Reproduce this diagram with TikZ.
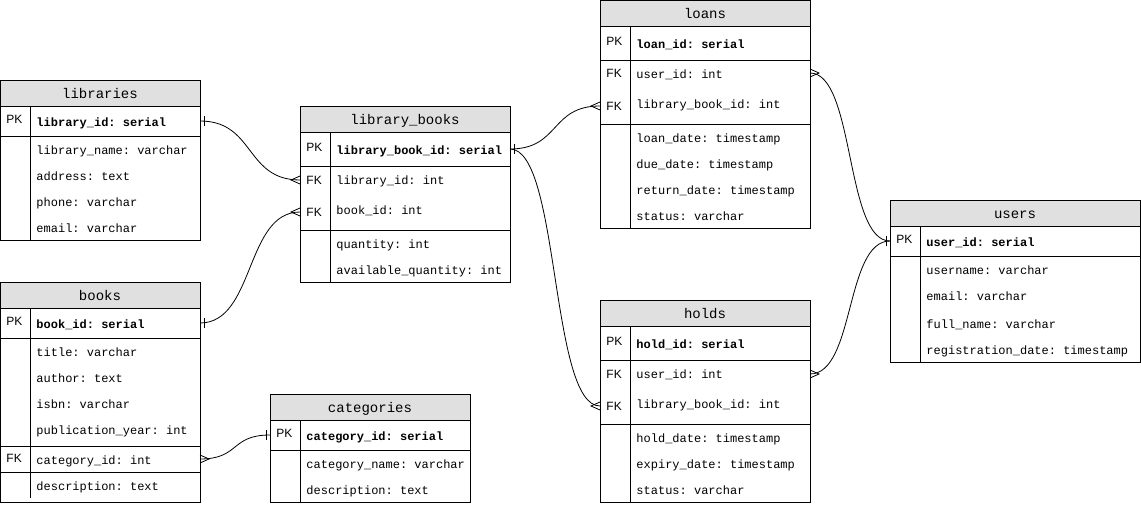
\documentclass[tikz,border=0pt]{standalone}
\usepackage{fontspec}
\newfontfamily\monofont{Liberation Mono}
\newfontfamily\keyfont{Liberation Sans}
\usetikzlibrary{positioning}
\definecolor{headgray}{RGB}{224,224,224}
\frenchspacing

\tikzset{
  head/.style={draw, fill=headgray, minimum height=26, inner sep=0, outer sep=0, text height=12, text depth=2, font=\monofont\fontsize{14}{16}\selectfont},
  sect/.style={draw, inner sep=0, outer sep=0},
  key/.style={anchor=west, inner sep=0, font=\keyfont\fontsize{12}{14}\selectfont},
  field/.style={anchor=west, inner sep=0, text height=11, text depth=1, font=\monofont\fontsize{12}{14}\selectfont},
  pkfield/.style={field, font=\monofont\bfseries\fontsize{12}{14}\selectfont},
  link/.style={line width=0.8},
  many/.pic={\draw[link] (0,-4) -- (9,0) -- (0,4);},
  one/.pic={\draw[link] (4,-5) -- (4,5);},
}

\begin{document}
\begin{tikzpicture}[x=1pt, y=-1pt, line width=0.9]
\useasboundingbox (0,0) rectangle (1141,506);

% libraries
\node[head, minimum width=200] (libraries) at (100,93) {libraries};
\node[sect, minimum width=200, minimum height=30, below=0 of libraries] (libraries-pk) {};
\node[sect, minimum width=200, minimum height=104, below=0 of libraries-pk] (libraries-rest) {};
\draw ([xshift=30]libraries-pk.north west) -- ([xshift=30]libraries-rest.south west);
\node[key] (libraries-k1) at (6,119) {PK};
\node[pkfield] (libraries-f1) at (36,121) {library\_id: serial};
\node[field] (libraries-f2) at (36,149) {library\_name: varchar};
\node[field] (libraries-f3) at (36,175) {address: text};
\node[field] (libraries-f4) at (36,201) {phone: varchar};
\node[field] (libraries-f5) at (36,227) {email: varchar};

% books
\node[head, minimum width=200] (books) at (100,295) {books};
\node[sect, minimum width=200, minimum height=30, below=0 of books] (books-pk) {};
\node[sect, minimum width=200, minimum height=108, below=0 of books-pk] (books-rest) {};
\node[sect, minimum width=200, minimum height=26, below=0 of books-rest] (books-fk) {};
\node[sect, minimum width=200, minimum height=30, below=0 of books-fk] (books-last) {};
\draw ([xshift=30]books-pk.north west) -- ([xshift=30, yshift=4]books-last.south west);
\node[key] (books-k1) at (6,321) {PK};
\node[key] (books-k2) at (6,458) {FK};
\node[pkfield] (books-f1) at (36,323) {book\_id: serial};
\node[field] (books-f2) at (36,351) {title: varchar};
\node[field] (books-f3) at (36,377) {author: text};
\node[field] (books-f4) at (36,403) {isbn: varchar};
\node[field] (books-f5) at (36,429) {publication\_year: int};
\node[field] (books-f6) at (36,459) {category\_id: int};
\node[field] (books-f7) at (36,485) {description: text};

% library_books
\node[head, minimum width=210] (lbooks) at (405,119) {library\_books};
\node[sect, minimum width=210, minimum height=34, below=0 of lbooks] (lbooks-pk) {};
\node[sect, minimum width=210, minimum height=64, below=0 of lbooks-pk] (lbooks-fk) {};
\node[sect, minimum width=210, minimum height=52, below=0 of lbooks-fk] (lbooks-rest) {};
\draw ([xshift=30]lbooks-pk.north west) -- ([xshift=30]lbooks-rest.south west);
\node[key] (lbooks-k1) at (306,147) {PK};
\node[key] (lbooks-k2) at (306,180) {FK};
\node[key] (lbooks-k3) at (306,212) {FK};
\node[pkfield] (lbooks-f1) at (336,149) {library\_book\_id: serial};
\node[field] (lbooks-f2) at (336,179) {library\_id: int};
\node[field] (lbooks-f3) at (336,209) {book\_id: int};
\node[field] (lbooks-f4) at (336,243) {quantity: int};
\node[field] (lbooks-f5) at (336,269) {available\_quantity: int};

% loans
\node[head, minimum width=210] (loans) at (705,13) {loans};
\node[sect, minimum width=210, minimum height=34, below=0 of loans] (loans-pk) {};
\node[sect, minimum width=210, minimum height=64, below=0 of loans-pk] (loans-fk) {};
\node[sect, minimum width=210, minimum height=104, below=0 of loans-fk] (loans-rest) {};
\draw ([xshift=30]loans-pk.north west) -- ([xshift=30]loans-rest.south west);
\node[key] (loans-k1) at (606,41) {PK};
\node[key] (loans-k2) at (606,73) {FK};
\node[key] (loans-k3) at (606,106) {FK};
\node[pkfield] (loans-f1) at (636,43) {loan\_id: serial};
\node[field] (loans-f2) at (636,73) {user\_id: int};
\node[field] (loans-f3) at (636,103) {library\_book\_id: int};
\node[field] (loans-f4) at (636,137) {loan\_date: timestamp};
\node[field] (loans-f5) at (636,163) {due\_date: timestamp};
\node[field] (loans-f6) at (636,189) {return\_date: timestamp};
\node[field] (loans-f7) at (636,215) {status: varchar};

% holds
\node[head, minimum width=210] (holds) at (705,313) {holds};
\node[sect, minimum width=210, minimum height=34, below=0 of holds] (holds-pk) {};
\node[sect, minimum width=210, minimum height=64, below=0 of holds-pk] (holds-fk) {};
\node[sect, minimum width=210, minimum height=78, below=0 of holds-fk] (holds-rest) {};
\draw ([xshift=30]holds-pk.north west) -- ([xshift=30]holds-rest.south west);
\node[key] (holds-k1) at (606,341) {PK};
\node[key] (holds-k2) at (606,374) {FK};
\node[key] (holds-k3) at (606,406) {FK};
\node[pkfield] (holds-f1) at (636,343) {hold\_id: serial};
\node[field] (holds-f2) at (636,373) {user\_id: int};
\node[field] (holds-f3) at (636,403) {library\_book\_id: int};
\node[field] (holds-f4) at (636,437) {hold\_date: timestamp};
\node[field] (holds-f5) at (636,463) {expiry\_date: timestamp};
\node[field] (holds-f6) at (636,489) {status: varchar};

% users
\node[head, minimum width=250] (users) at (1015,213) {users};
\node[sect, minimum width=250, minimum height=30, below=0 of users] (users-pk) {};
\node[sect, minimum width=250, minimum height=106, below=0 of users-pk] (users-rest) {};
\draw ([xshift=30]users-pk.north west) -- ([xshift=30]users-rest.south west);
\node[key] (users-k1) at (896,239) {PK};
\node[pkfield] (users-f1) at (926,241) {user\_id: serial};
\node[field] (users-f2) at (926,269) {username: varchar};
\node[field] (users-f3) at (926,295) {email: varchar};
\node[field] (users-f4) at (926,323) {full\_name: varchar};
\node[field] (users-f5) at (926,349) {registration\_date: timestamp};

% categories
\node[head, minimum width=200] (categories) at (370,407) {categories};
\node[sect, minimum width=200, minimum height=30, below=0 of categories] (categories-pk) {};
\node[sect, minimum width=200, minimum height=52, below=0 of categories-pk] (categories-rest) {};
\draw ([xshift=30]categories-pk.north west) -- ([xshift=30]categories-rest.south west);
\node[key] (categories-k1) at (276,433) {PK};
\node[pkfield] (categories-f1) at (306,435) {category\_id: serial};
\node[field] (categories-f2) at (306,463) {category\_name: varchar};
\node[field] (categories-f3) at (306,489) {description: text};

% relations
\draw[link] (libraries-pk.east) .. controls +(55,0) and +(-55,0) .. (lbooks-fk.west |- lbooks-k2);
\draw[link] (books-pk.east) .. controls +(55,0) and +(-55,0) .. (lbooks-fk.west |- lbooks-k3);
\draw[link] (lbooks-pk.east) .. controls +(50,0) and +(-50,0) .. (loans-fk.west |- loans-k3);
\draw[link] (lbooks-pk.east) .. controls +(50,0) and +(-50,0) .. (holds-fk.west |- holds-k3);
\draw[link] (loans-fk.east |- loans-k2) .. controls +(45,0) and +(-45,0) .. (users-pk.west);
\draw[link] (holds-fk.east |- holds-k2) .. controls +(45,0) and +(-45,0) .. (users-pk.west);
\draw[link] (books-fk.east) .. controls +(40,0) and +(-40,0) .. (categories-pk.west);

% ends
\pic at (libraries-pk.east) {one};
\pic at (books-pk.east) {one};
\pic at (lbooks-pk.east) {one};
\pic[rotate=180] at (users-pk.west) {one};
\pic[rotate=180] at (categories-pk.west) {one};
\pic[rotate=180] at (lbooks-fk.west |- lbooks-k2) {many};
\pic[rotate=180] at (lbooks-fk.west |- lbooks-k3) {many};
\pic[rotate=180] at (loans-fk.west |- loans-k3) {many};
\pic[rotate=180] at (holds-fk.west |- holds-k3) {many};
\pic at (loans-fk.east |- loans-k2) {many};
\pic at (holds-fk.east |- holds-k2) {many};
\pic at (books-fk.east) {many};
\end{tikzpicture}
\end{document}
